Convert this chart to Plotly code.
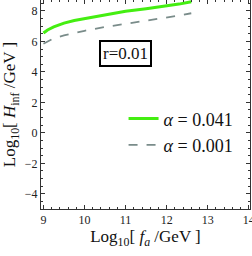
import plotly.graph_objects as go

log_fa = [9.0, 9.1, 9.25, 9.5, 9.75, 10.0, 10.5, 11.0, 11.5, 12.0, 12.3, 12.6]
h_alpha_041 = [6.55, 6.75, 6.95, 7.2, 7.37, 7.5, 7.75, 7.98, 8.15, 8.33, 8.45, 8.6]
h_alpha_001 = [5.85, 6.0, 6.2, 6.4, 6.57, 6.7, 6.95, 7.15, 7.38, 7.58, 7.7, 7.85]
labels = ["<i>α</i> = 0.041", "<i>α</i> = 0.001"]

serif = "Liberation Serif"
fig = go.Figure()
fig.add_trace(go.Scatter(x=log_fa, y=h_alpha_041, mode="lines", name=labels[0],
                         line=dict(color="#44ee11", width=3)))
fig.add_trace(go.Scatter(x=log_fa, y=h_alpha_001, mode="lines", name=labels[1],
                         line=dict(color="#7a8c8a", width=1.8, dash="dash")))

axis_common = dict(showgrid=False, zeroline=False, showline=True, linecolor="#333",
                   linewidth=1, mirror="allticks", ticks="inside", ticklen=4,
                   tickcolor="#333", ticklabeloverflow="allow", automargin=False,
                   tickfont=dict(family=serif, size=12, color="#222"))
fig.update_xaxes(range=[8.94, 14.03], dtick=1, tick0=9,
                 minor=dict(ticks="inside", ticklen=2, dtick=0.2, tickcolor="#333"),
                 title=dict(text="Log<sub>10</sub>[ <i>f<sub>a</sub></i> /GeV ]",
                            font=dict(family=serif, size=17, color="#111"), standoff=2),
                 **axis_common)
fig.update_yaxes(range=[-5.0, 8.72], dtick=2, tick0=0,
                 minor=dict(ticks="inside", ticklen=2, dtick=0.5, tickcolor="#333"),
                 title=dict(text="Log<sub>10</sub>[ <i>H</i><sub>inf</sub> /GeV ]",
                            font=dict(family=serif, size=17, color="#111"), standoff=4),
                 **axis_common)

fig.add_annotation(x=0.405, y=0.81, xref="paper", yref="paper", text="r=0.01",
                   showarrow=False, font=dict(family=serif, size=17, color="#111"),
                   bordercolor="black", borderwidth=2, borderpad=2, bgcolor="white")

fig.update_layout(width=252, height=256, margin=dict(l=41, r=2, t=0, b=47),
                  plot_bgcolor="white", paper_bgcolor="white",
                  legend=dict(x=0.395, y=0.52, xanchor="left", yanchor="top",
                              bgcolor="rgba(0,0,0,0)", itemwidth=30,
                              font=dict(family=serif, size=18, color="#111"),
                              tracegroupgap=0))
fig.write_html("out.html", config={"displayModeBar": False},
               post_script="document.body.style.margin='0';document.body.style.overflow='hidden';")
